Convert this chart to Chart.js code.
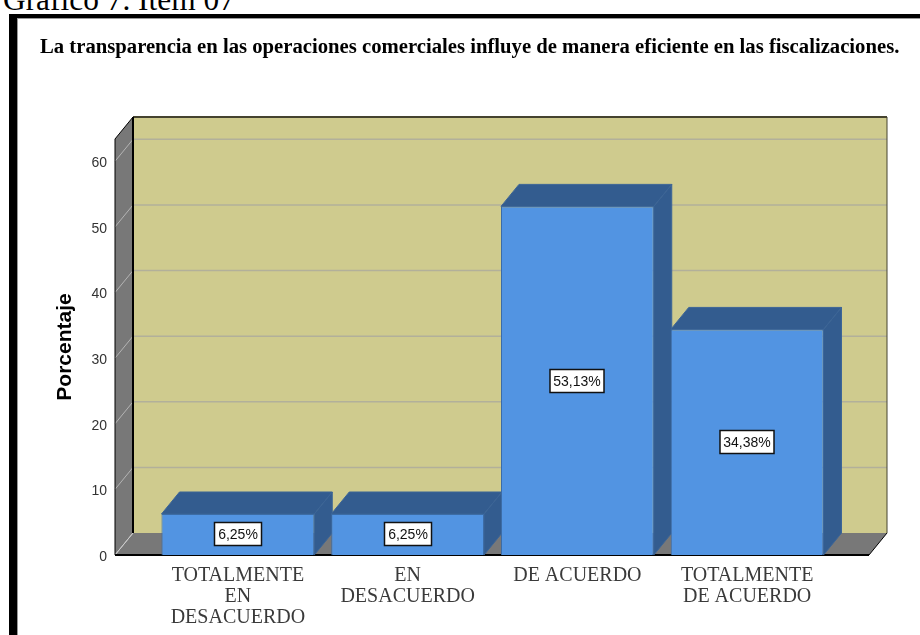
<!DOCTYPE html>
<html>
<head>
<meta charset="utf-8">
<title>Gráfico 7</title>
<script src="https://cdn.jsdelivr.net/npm/chart.js@4"></script>
<style>
  html, body { margin: 0; background: #fff; overflow: hidden; }
  #heading { position: absolute; left: 3px; top: -18px; font: 31.4px "Liberation Serif"; color: #000; white-space: nowrap; }
  #frame { position: absolute; left: 9px; top: 14px; right: 0; bottom: 0; border-left: 8px solid #000; border-top: 4px solid #000; box-shadow: inset 1px 1px 0 #999; }
  #chart { position: absolute; left: 0; top: 0; }
</style>
</head>
<body>
<div id="heading">Gráfico 7. Ítem 07</div>
<div id="frame"></div>
<canvas id="chart" width="920" height="635"></canvas>
<script>
const titleText = 'La transparencia en las operaciones comerciales influye de manera eficiente en las fiscalizaciones.';
const categories = [['TOTALMENTE', 'EN', 'DESACUERDO'], ['EN', 'DESACUERDO'], ['DE ACUERDO'], ['TOTALMENTE', 'DE ACUERDO']];
const percentages = [6.25, 6.25, 53.13, 34.38];
const percentLabels = ['6,25%', '6,25%', '53,13%', '34,38%'];

// the fake 3D box: how far the back wall sits from the front plane
const depthX = 18;
const depthY = 22;
const wallOutX = 38;

function poly(ctx, pts, fill, stroke, width) {
  ctx.beginPath();
  pts.forEach((p, i) => i ? ctx.lineTo(p[0], p[1]) : ctx.moveTo(p[0], p[1]));
  ctx.closePath();
  if (fill) { ctx.fillStyle = fill; ctx.fill(); }
  if (stroke) { ctx.strokeStyle = stroke; ctx.lineWidth = width || 1; ctx.stroke(); }
}

function line(ctx, x1, y1, x2, y2, color, width) {
  ctx.beginPath();
  ctx.moveTo(x1, y1);
  ctx.lineTo(x2, y2);
  ctx.strokeStyle = color;
  ctx.lineWidth = width;
  ctx.stroke();
}

const box3d = {
  id: 'box3d',
  beforeDatasetsDraw(chart) {
    const { ctx, chartArea, scales } = chart;
    const left = chartArea.left - wallOutX;
    const right = chartArea.right + wallOutX - 1;
    const top = chartArea.top;
    const bottom = chartArea.bottom;
    ctx.save();
    // back wall, left wall, floor
    poly(ctx, [[left + depthX, top - depthY], [right + depthX, top - depthY], [right + depthX, bottom - depthY], [left + depthX, bottom - depthY]], '#cfcb8e');
    poly(ctx, [[left, top], [left + depthX, top - depthY], [left + depthX, bottom - depthY], [left, bottom]], '#787878');
    poly(ctx, [[left, bottom], [left + depthX, bottom - depthY], [right + depthX, bottom - depthY], [right, bottom]], '#787878');
    scales.y.ticks.forEach(t => {
      const y = scales.y.getPixelForValue(t.value);
      if (t.value > 0) line(ctx, left + depthX, y - depthY, right + depthX, y - depthY, '#b2b09a', 1.5);
      line(ctx, left, y, left + depthX, y - depthY, '#b4b4b4', 1);
    });
    line(ctx, left + depthX, top - depthY, right + depthX, top - depthY, '#45432f', 2);
    line(ctx, left + depthX, top - depthY, left + depthX, bottom - depthY, '#000', 2);
    line(ctx, right + depthX, top - depthY, right + depthX, bottom - depthY, '#45432f', 1);
    line(ctx, left, top, left + depthX, top - depthY, '#000', 1);
    line(ctx, left, top, left, bottom, '#000', 1);
    line(ctx, left + depthX, bottom - depthY, left, bottom, '#ccc', 1);
    line(ctx, right + depthX, bottom - depthY, right, bottom, '#000', 1);
    line(ctx, left, bottom, right, bottom, '#000', 2);
    // bar tops and sides go under the bar fronts
    chart.getDatasetMeta(0).data.forEach(bar => {
      const l = bar.x - bar.width / 2;
      const r = bar.x + bar.width / 2;
      poly(ctx, [[l, bar.y], [l + depthX, bar.y - depthY], [r + depthX, bar.y - depthY], [r, bar.y]], '#335c8f', '#3c6597', 1);
      poly(ctx, [[r, bar.y], [r + depthX, bar.y - depthY], [r + depthX, bottom - depthY], [r, bottom]], '#335c8f', '#3c6597', 1);
    });
    ctx.restore();
  },
  afterDatasetsDraw(chart) {
    const { ctx } = chart;
    ctx.save();
    ctx.font = '14px "Liberation Sans"';
    ctx.textAlign = 'center';
    ctx.textBaseline = 'middle';
    chart.getDatasetMeta(0).data.forEach((bar, i) => {
      const cy = Math.round((bar.y + bar.base) / 2);
      const cx = Math.round(bar.x);
      const w = Math.round(ctx.measureText(percentLabels[i]).width) + 7;
      ctx.fillStyle = '#fff';
      ctx.fillRect(cx - w / 2, cy - 11.5, w, 23);
      ctx.strokeStyle = '#111';
      ctx.lineWidth = 1.5;
      ctx.strokeRect(cx - w / 2, cy - 11.5, w, 23);
      ctx.fillStyle = '#111';
      ctx.fillText(percentLabels[i], cx, cy + 1);
    });
    ctx.restore();
  }
};

new Chart(document.getElementById('chart'), {
  type: 'bar',
  data: {
    labels: categories,
    datasets: [{
      data: percentages,
      backgroundColor: '#5294e2',
      borderColor: '#3c6ca5',
      borderWidth: 1,
      barPercentage: 0.9,
      categoryPercentage: 1
    }]
  },
  plugins: [box3d],
  options: {
    responsive: false,
    animation: false,
    layout: { padding: { left: 40, right: 18, top: 0, bottom: 0 } },
    plugins: {
      legend: { display: false },
      tooltip: { enabled: false },
      title: {
        display: true,
        text: titleText,
        align: 'start',
        color: '#000',
        font: { family: '"Liberation Serif"', size: 20.7, weight: 'bold', lineHeight: 16 / 20.7 },
        padding: { top: 40, bottom: 83 }
      }
    },
    scales: {
      x: {
        grid: { display: false },
        border: { display: false },
        ticks: { color: '#3a3a3a', padding: 2, autoSkip: false, maxRotation: 0, font: { family: '"Liberation Serif"', size: 20, lineHeight: 21 / 20 } },
        afterFit(scale) { scale.height = 80; }
      },
      y: {
        min: 0,
        max: 63.4,
        grid: { display: false },
        border: { display: false },
        ticks: { stepSize: 10, includeBounds: false, color: '#333', padding: 38, labelOffset: 2, font: { family: '"Liberation Sans"', size: 14 } },
        title: { display: true, text: 'Porcentaje', color: '#000', padding: { top: 13, bottom: 0 }, font: { family: '"Liberation Sans"', size: 21, weight: 'bold' } },
        afterFit(scale) { scale.width = 113; }
      },
      // empty axis, only keeps the plot clear of the right edge under the full-width title
      spacer: {
        type: 'linear',
        position: 'right',
        grid: { display: false },
        border: { display: false },
        ticks: { display: false },
        afterFit(scale) { scale.width = 70; }
      }
    }
  }
});
</script>
</body>
</html>
